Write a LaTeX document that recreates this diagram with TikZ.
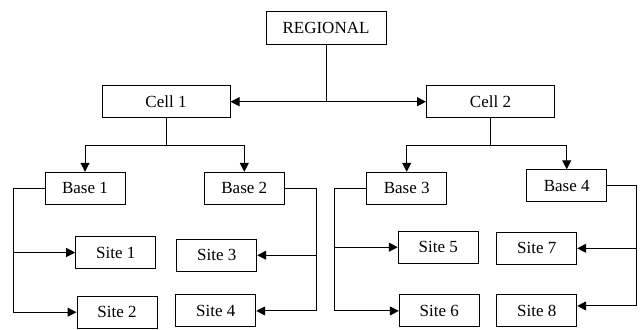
\documentclass[tikz,border=0pt]{standalone}
\usepackage{fontspec}
\setmainfont{Liberation Serif}
\usetikzlibrary{arrows.meta}

\begin{document}
\begin{tikzpicture}[x=0.5pt,y=-0.5pt]
			\tikzset{unitbox/.style={draw, shape=rectangle, fill=white, line width=0.5pt, inner sep=0pt, minimum width=40pt, minimum height=16pt, font=\fontsize{8.5}{10}\selectfont}}
			\tikzset{wire/.style={line width=0.5pt, -{Triangle[length=4.5pt,width=4.5pt]}}}
			\useasboundingbox (0,0) rectangle (640,329);
			\node[unitbox, minimum width=60pt, minimum height=16.5pt] (reg) at (326,27.7) {REGIONAL};
			\node[unitbox, minimum width=64pt] (c1) at (166,101.7) {Cell 1};
			\node[unitbox, minimum width=64pt] (c2) at (490.5,101.7) {Cell 2};
			\foreach\n/\x/\y in {1/85/188.3, 2/244.3/188.3, 3/406.7/188.3, 4/566.7/185.8}{
				\node[unitbox] (b\n) at (\x,\y) {Base \n};
			}
			\foreach\n/\x/\y in {1/115.7/252.5, 2/117/312.2, 3/216.7/255.2, 4/215.7/310.9, 5/438.3/247.2, 6/439.3/310.9, 7/536.7/248.3, 8/536.7/310.9}{
				\node[unitbox] (s\n) at (\x,\y) {Site \n};
			}
			% regional to cells
			\draw[wire] (reg.south) |- (c1.east);
			\draw[wire] (reg.south) |- (c2.west);
			% cells to bases
			\draw[wire] (c1.south) -- ++(0,27) -| (b1.north);
			\draw[wire] (c1.south) -- ++(0,27) -| (b2.north);
			\draw[wire] (c2.south) -- ++(0,27) -| (b3.north);
			\draw[wire] (c2.south) -- ++(0,27) -| (b4.north);
			% bases to sites
			\coordinate (j1) at (13.3,188.3);
			\coordinate (j2) at (316,188.3);
			\coordinate (j3) at (334.7,188.3);
			\coordinate (j4) at (636.7,185.8);
			\draw[wire] (b1.west) -- (j1) |- (s2.west);
			\draw[wire] (j1 |- s1.west) -- (s1.west);
			\draw[wire] (b2.east) -- (j2) |- (s4.east);
			\draw[wire] (j2 |- s3.east) -- (s3.east);
			\draw[wire] (b3.west) -- (j3) |- (s6.west);
			\draw[wire] (j3 |- s5.west) -- (s5.west);
			\draw[wire] (b4.east) -- (j4) |- ([yshift=2.5pt]s8.east);
			\draw[wire] (j4 |- s7.east) -- (s7.east);
		\end{tikzpicture}
\end{document}
